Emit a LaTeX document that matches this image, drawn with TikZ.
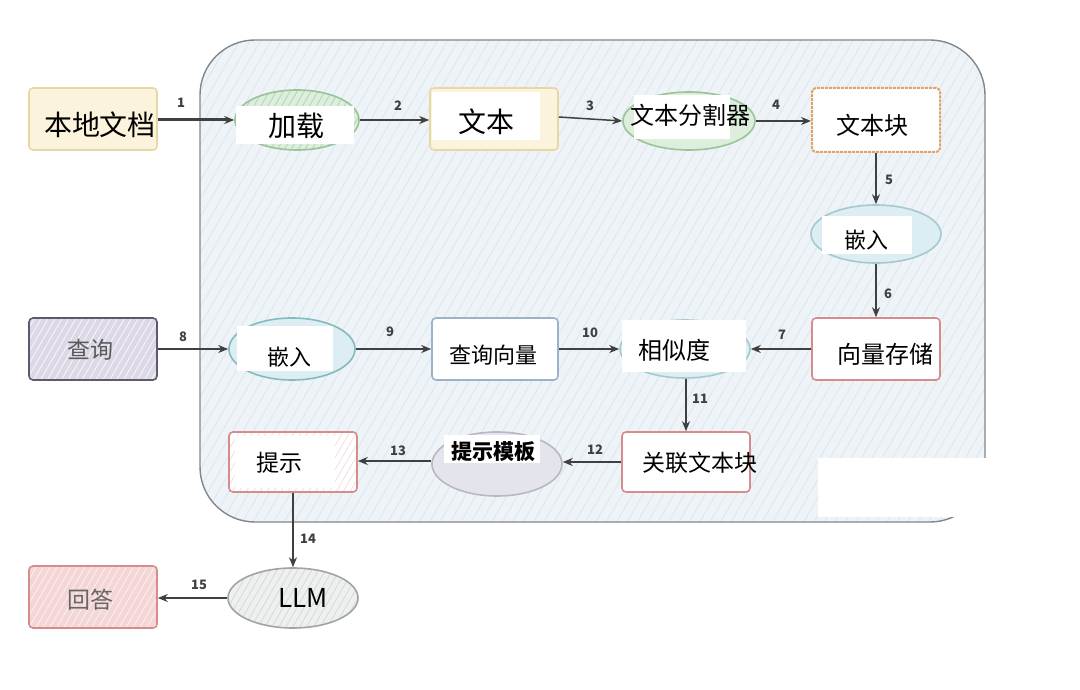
\documentclass[tikz,border=0pt]{standalone}
\usepackage{fontspec}
\setmainfont{Noto Sans CJK SC}
\setsansfont{Noto Sans CJK SC}
\usetikzlibrary{shapes.geometric,arrows.meta,patterns.meta}
\definecolor{contfill}{HTML}{EEF3F7}
\definecolor{contline}{HTML}{80868C}
\definecolor{hatchc}{HTML}{DCE5EC}
\definecolor{yelfill}{HTML}{FBF3DC}
\definecolor{yelline}{HTML}{E6D7A6}
\definecolor{grnfill}{HTML}{DDEEDD}
\definecolor{grnline}{HTML}{98C498}
\definecolor{orgline}{HTML}{E0A468}
\definecolor{bluefill}{HTML}{DDEEF2}
\definecolor{blueline}{HTML}{A4CACF}
\definecolor{redline}{HTML}{D48C8C}
\definecolor{qfill}{HTML}{DCD8E6}
\definecolor{qline}{HTML}{5E5A6C}
\definecolor{qvline}{HTML}{9CB2CC}
\definecolor{tmplfill}{HTML}{E4E4EC}
\definecolor{tmplline}{HTML}{B8B8C4}
\definecolor{llmfill}{HTML}{EEF0F0}
\definecolor{llmline}{HTML}{A0A4A4}
\definecolor{ansfill}{HTML}{F4D6D6}
\definecolor{arrc}{HTML}{404040}
\tikzset{
  box/.style={rectangle, rounded corners=4pt, line width=1.6pt, minimum width=128pt, minimum height=62pt, inner sep=0pt},
  oval/.style={ellipse, line width=1.6pt, minimum width=128pt, minimum height=60pt, inner sep=0pt},
  wlbl/.style={fill=white, inner sep=0pt},
  txt/.style={inner sep=0pt, text=black},
  arr/.style={-{Stealth[length=10pt,width=8pt]}, draw=arrc, line width=1.8pt},
  num/.style={font=\fontsize{13}{13}\selectfont\bfseries, text=arrc, inner sep=0pt},
  hatch/.style 2 args={preaction={fill=#1}, preaction={pattern={Lines[angle=60,distance=6pt,line width=0.9pt]}, pattern color=#2}}
}
\begin{document}
\begin{tikzpicture}[x=1pt,y=-1pt]
\useasboundingbox (0,0) rectangle (1080,690);
% container
\path[draw=contline, line width=1.4pt, rounded corners=55pt,
  preaction={fill=contfill},
  preaction={pattern={Lines[angle=60,distance=9pt,line width=0.7pt]}, pattern color=hatchc}]
  (200,40) rectangle (985,522);
\fill[white] (818,458) rectangle (992,517);

% shapes
\node[box, fill=yelfill, draw=yelline] (local) at (93,119) {};
\node[txt, font=\fontsize{28}{28}\selectfont] at (100,125) {本地文档};

\node[oval, draw=grnline, hatch={grnfill}{grnline!70}, minimum width=124pt] (load) at (297,120) {};
\node[wlbl, minimum width=118pt, minimum height=38pt] at (295,125) {};
\node[txt, font=\fontsize{28}{28}\selectfont] at (296,126) {加载};

\node[box, fill=yelfill, draw=yelline] (text) at (494,119) {};
\node[wlbl, minimum width=108pt, minimum height=48pt] at (486,116) {};
\node[txt, font=\fontsize{28}{28}\selectfont] at (486,122) {文本};

\node[oval, fill=grnfill, draw=grnline, minimum width=132pt, minimum height=58pt] (split) at (689,121) {};
\node[wlbl, minimum width=96pt, minimum height=44pt] at (682,117) {};
\node[txt, font=\fontsize{24}{24}\selectfont] at (690,115) {文本分割器};

\node[box, fill=white, draw=orgline, line width=2pt, dash pattern=on 3pt off 1pt, minimum height=64pt] (chunk) at (876,120) {};
\node[txt, font=\fontsize{24}{24}\selectfont] at (872,125) {文本块};

\node[oval, fill=bluefill, draw=blueline, minimum width=130pt, minimum height=58pt] (emb1) at (876,234) {};
\node[wlbl, minimum width=90pt, minimum height=38pt] at (867,235) {};
\node[txt, font=\fontsize{22}{22}\selectfont] at (866,240) {嵌入};

\node[box, fill=white, draw=redline] (store) at (876,349) {};
\node[txt, font=\fontsize{24}{24}\selectfont] at (885,354) {向量存储};

\node[box, draw=qline, hatch={qfill}{white!75!qfill}] (query) at (93,349) {};
\node[txt, text=black!65, font=\fontsize{23}{23}\selectfont] at (90,350) {查询};

\node[oval, fill=bluefill, draw=blueline!80!teal, minimum width=126pt, minimum height=62pt] (emb2) at (292,349) {};
\node[wlbl, minimum width=96pt, minimum height=45pt] at (285,348) {};
\node[txt, font=\fontsize{22}{22}\selectfont] at (289,357) {嵌入};

\node[box, fill=white, draw=qvline, minimum width=126pt] (qvec) at (495,349) {};
\node[txt, font=\fontsize{22}{22}\selectfont] at (493,355) {查询向量};

\node[oval, fill=bluefill, draw=blueline, minimum width=130pt, minimum height=58pt] (sim) at (685,349) {};
\node[wlbl, minimum width=124pt, minimum height=52pt] at (684,346) {};
\node[txt, font=\fontsize{24}{24}\selectfont] at (674,350) {相似度};

\node[box, fill=white, draw=redline, minimum height=60pt] (rel) at (686,462) {};
\node[txt, font=\fontsize{23}{23}\selectfont] at (700,463) {关联文本块};

\node[oval, fill=tmplfill, draw=tmplline, minimum width=130pt, minimum height=64pt] (tmpl) at (497,464) {};
\node[wlbl, minimum width=96pt, minimum height=28pt] at (492,449) {};
\node[txt, font=\fontsize{21}{21}\selectfont\bfseries] at (493,452) {提示模板};

\node[box, draw=redline, hatch={white}{redline!25}, minimum height=60pt] (prompt) at (293,462) {};
\node[wlbl, minimum width=100pt, minimum height=52pt] at (285,462) {};
\node[txt, font=\fontsize{23}{23}\selectfont] at (279,463) {提示};

\node[oval, draw=llmline, hatch={llmfill}{llmline!40}, minimum width=130pt, minimum height=60pt] (llm) at (293,598) {};
\node[txt, font=\fontsize{26}{26}\selectfont] at (303,598) {LLM};

\node[box, draw=redline, hatch={ansfill}{white!60!ansfill}] (ans) at (93,597) {};
\node[txt, text=black!60, font=\fontsize{23}{23}\selectfont] at (90,600) {回答};

% connectors
\draw[arr, line width=3pt] (local.east |- 0,120) -- (load.west);
\node[num] at (181,103) {1};
\draw[arr, line width=2.8pt] (load.east) -- (text.west |- 0,120);
\node[num] at (398,106) {2};
\draw[arr, line width=1.5pt] (text.east |- 0,117) -- (split.west);
\node[num] at (590,106) {3};
\draw[arr, line width=2.8pt] (split.east) -- (chunk.west |- 0,121);
\node[num] at (776,105) {4};
\draw[arr, line width=2.4pt] (chunk.south) -- (emb1.north);
\node[num] at (889,180) {5};
\draw[arr, line width=2pt] (emb1.south) -- (store.north);
\node[num] at (888,294) {6};
\draw[arr, line width=1.6pt] (store.west) -- (sim.east);
\node[num] at (782,335) {7};
\draw[arr, line width=1.6pt] (query.east) -- (emb2.west);
\node[num] at (183,337) {8};
\draw[arr, line width=2pt] (emb2.east) -- (qvec.west);
\node[num] at (390,332) {9};
\draw[arr, line width=2.8pt] (qvec.east) -- (sim.west);
\node[num] at (590,333) {10};
\draw[arr, line width=1.6pt] (sim.south -| 686,0) -- (rel.north);
\node[num] at (700,399) {11};
\draw[arr, line width=1.6pt] (rel.west) -- (tmpl.east |- 0,462);
\node[num] at (595,450) {12};
\draw[arr, line width=2.2pt] (tmpl.west |- 0,461) -- (prompt.east |- 0,461);
\node[num] at (398,451) {13};
\draw[arr, line width=1.6pt] (prompt.south) -- (llm.north);
\node[num] at (308,539) {14};
\draw[arr, line width=2.8pt] (llm.west) -- (ans.east |- 0,598);
\node[num] at (199,585) {15};
\end{tikzpicture}
\end{document}
